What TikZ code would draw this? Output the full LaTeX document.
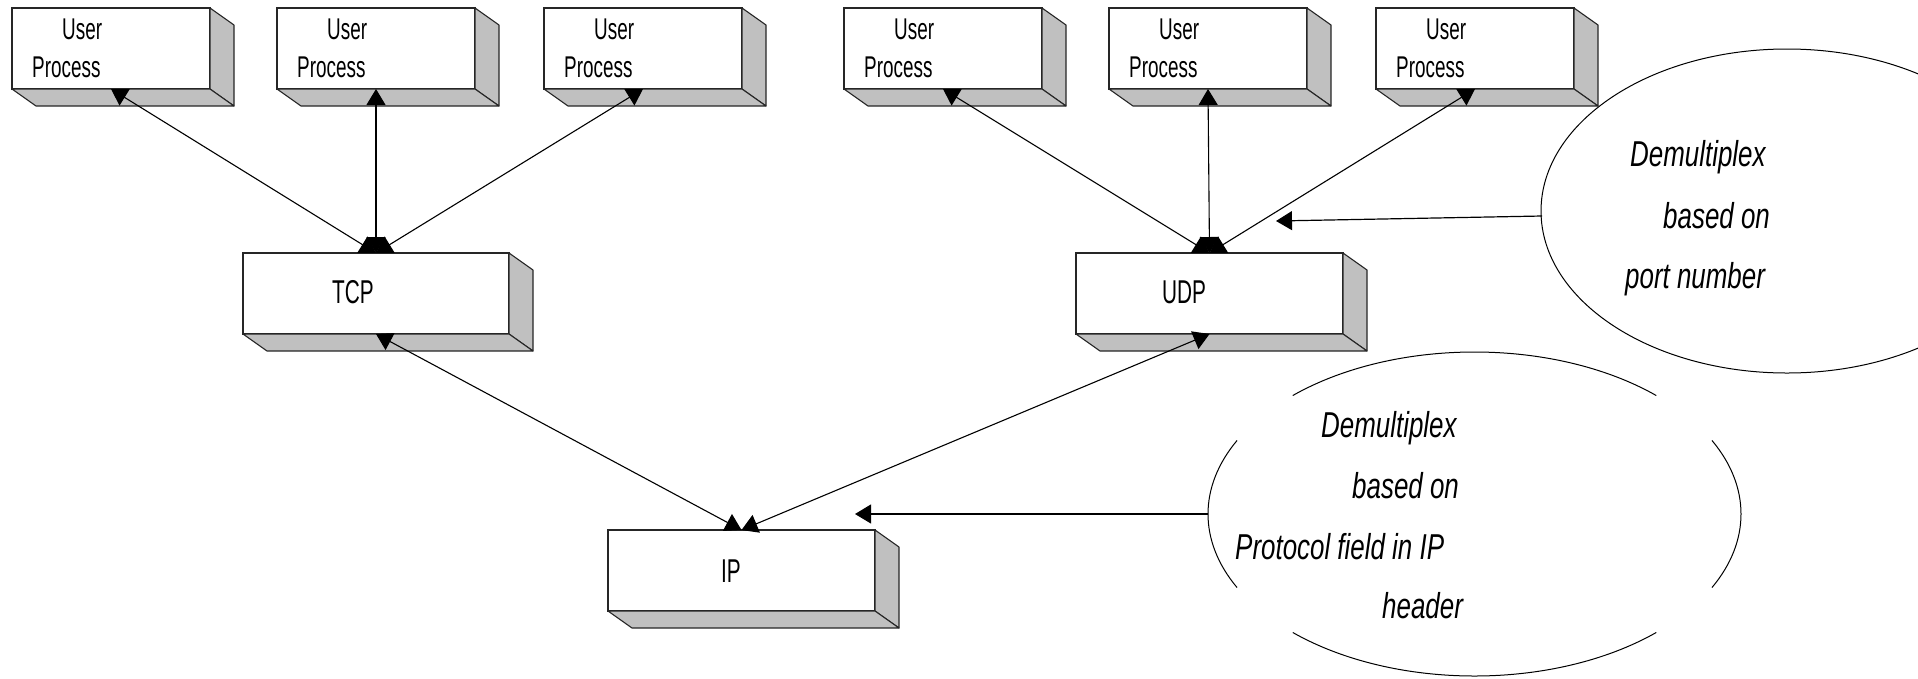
\documentclass[tikz,border=0pt]{standalone}
\usepackage{fontspec}
\setmainfont{Liberation Sans}
\newfontfamily\narrowsans[FakeStretch=0.63]{Liberation Sans}
\newfontfamily\notesans[FakeStretch=0.72]{Liberation Sans}
\usetikzlibrary{arrows.meta,shapes.geometric}
\definecolor{boxgray}{HTML}{C0C0C0}
\tikzset{
  frontface/.style={draw=black!85, line width=1.1pt, fill=white, rectangle,
    inner sep=0pt, outer sep=0pt, anchor=north west},
  depthface/.style={draw=black!85, line width=1.1pt, fill=boxgray, line join=round},
  boxlabel/.style={anchor=base west, inner sep=0pt,
    font=\narrowsans\fontsize{30}{34}\selectfont},
  layerlabel/.style={anchor=base west, inner sep=0pt,
    font=\narrowsans\fontsize{33}{38}\selectfont},
  notelabel/.style={anchor=base west, inner sep=0pt,
    font=\notesans\itshape\fontsize{36}{40}\selectfont},
  link/.style={line width=1.1pt,
    {Triangle[length=16pt,width=19pt]}-{Triangle[length=16pt,width=19pt]}},
  pointer/.style={line width=1.2pt, -{Triangle[length=16pt,width=19pt]}},
  bubble/.style={ellipse, inner sep=0pt, outer sep=0pt},
}
% a raised box: white front face with grey right and bottom faces
\newcommand\cuboid[5]{%
  \node[frontface, minimum width=#4pt, minimum height=#5pt] (#1) at (#2,#3) {};
  \draw[depthface] (#1.north east) -- ++(24,17) -- ++(0,#5) -- (#1.south east) -- cycle;
  \draw[depthface] (#1.south west) -- ++(24,17) -- ++(#4,0) -- (#1.south east) -- cycle;
}
% an application box on the top row
\newcommand\userbox[2]{%
  \cuboid{#1}{#2}{8}{198}{81}
  \node[boxlabel] (#1-a) at ({#2+50},39) {User};
  \node[boxlabel] (#1-b) at ({#2+20},77) {Process};
}
\begin{document}
\begin{tikzpicture}[x=1pt,y=-1pt]
\useasboundingbox (0,0) rectangle (1918,678);
\clip (0,0) rectangle (1918,678);

% application processes
\userbox{u1}{12}
\userbox{u2}{277}
\userbox{u3}{544}
\userbox{u4}{844}
\userbox{u5}{1109}
\userbox{u6}{1376}

% transport and network layers
\cuboid{tcp}{243}{253}{266}{81}
\node[layerlabel] (tcp-l) at (332,303) {TCP};
\cuboid{udp}{1076}{253}{267}{81}
\node[layerlabel] (udp-l) at (1162,303) {UDP};
\cuboid{ip}{608}{530}{267}{81}
\node[layerlabel] (ip-l) at (721,582) {IP};

% demultiplexing paths
\draw[link] (tcp.north) -- (u1.south);
\draw[link] (tcp.north) -- (u2.south);
\draw[link] (tcp.north) -- (u3.south);
\draw[link] (udp.north) -- (u4.south);
\draw[link] (udp.north) -- (u5.south);
\draw[link] (udp.north) -- (u6.south);
\draw[link] (ip.north) -- (tcp.south);
\draw[link] (ip.north) -- (udp.south);

% note: port number
\node[bubble, draw=black, line width=1pt, minimum width=492pt, minimum height=324pt]
  (portnote) at (1787,211) {};
\node[notelabel] (portnote-a) at (1630,166) {Demultiplex};
\node[notelabel] (portnote-b) at (1663,228) {based on};
\node[notelabel] (portnote-c) at (1625,288) {port number};
\coordinate (porttip) at (1276,221);
\draw[pointer] (1542,216) -- (porttip);

% note: protocol field, drawn as four separate arcs
\node[bubble, minimum width=533pt, minimum height=324pt] (protonote) at (1474.5,514) {};
\foreach \a/\b in {47/133, 153/207, 227/313, 333/387}
  \draw[line width=1pt] (protonote.center) ++(\a:266.5 and 162)
    arc[start angle=\a, end angle=\b, x radius=266.5, y radius=162];
\node[notelabel] (protonote-a) at (1321,437) {Demultiplex};
\node[notelabel] (protonote-b) at (1352,498) {based on};
\node[notelabel] (protonote-c) at (1235,559) {Protocol field in IP};
\node[notelabel] (protonote-d) at (1382,618) {header};
\coordinate (prototip) at (855,514);
\draw[pointer] (protonote.west) -- (prototip);
\end{tikzpicture}
\end{document}
